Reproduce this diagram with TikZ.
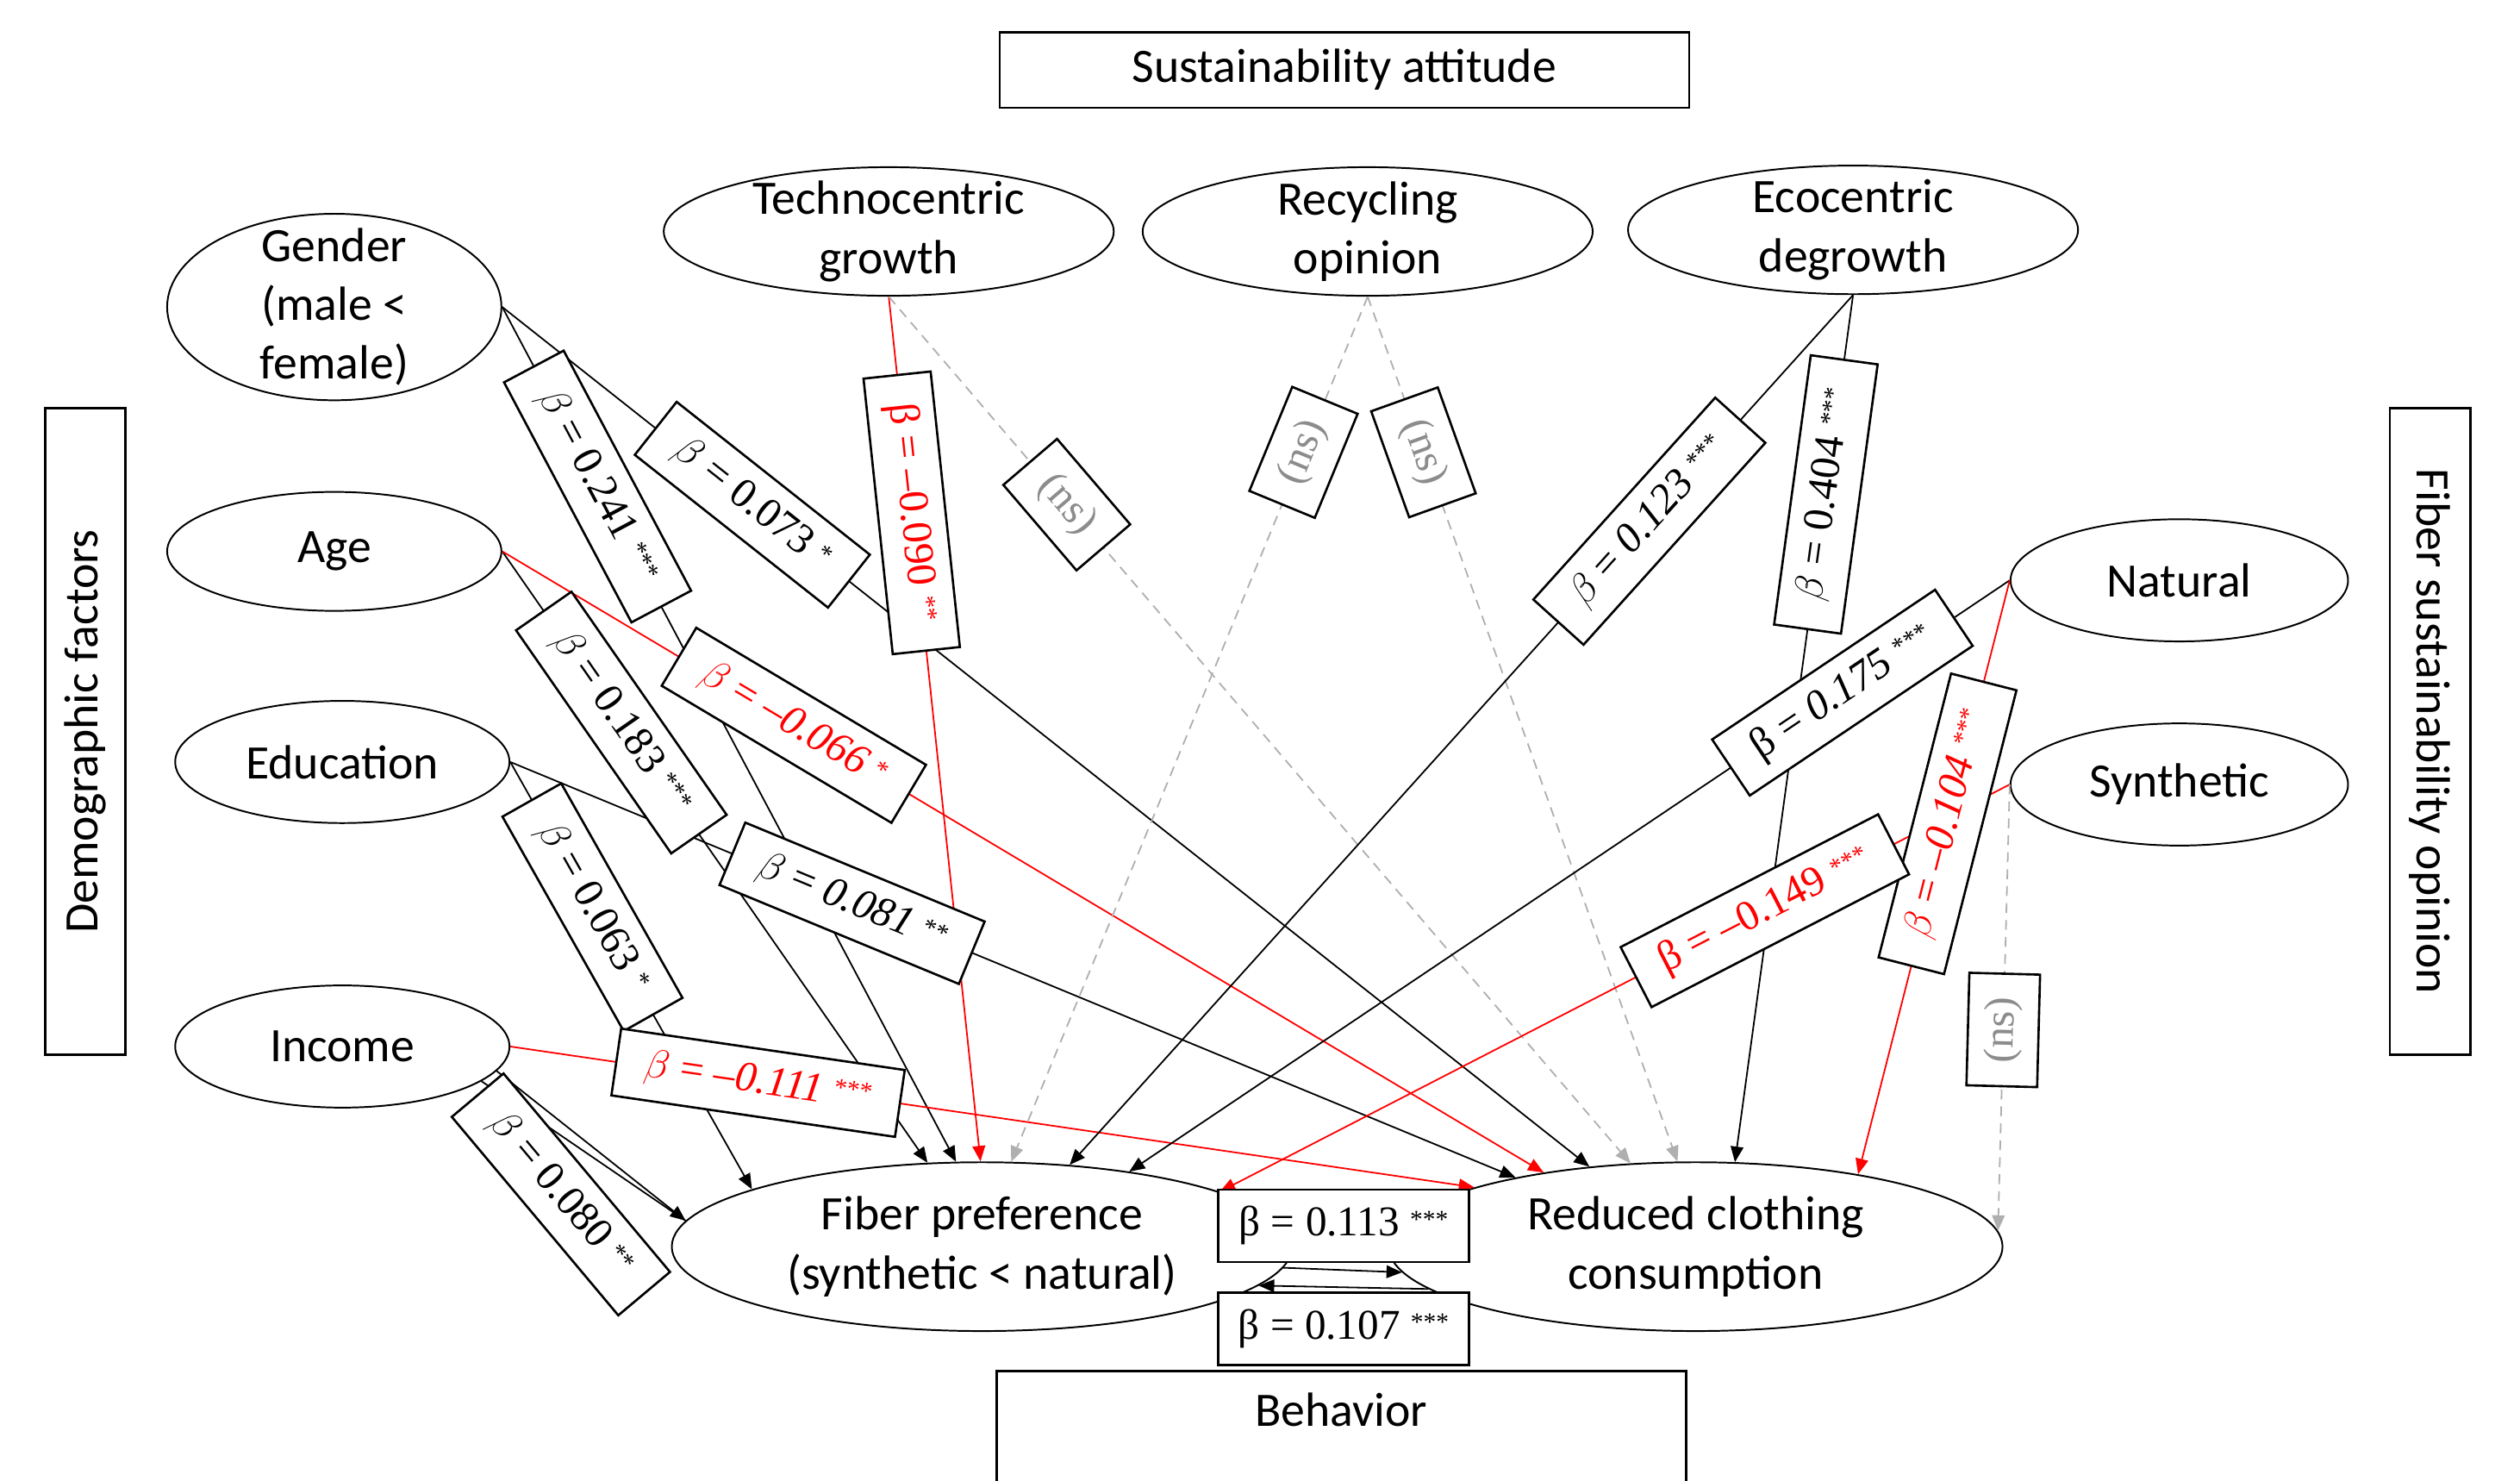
\documentclass[tikz,border=0pt]{standalone}
\usepackage{fontspec}
\setmainfont{Liberation Serif}
\newfontfamily\calfont{Carlito}
\usetikzlibrary{arrows.meta,shapes.geometric}
\definecolor{nsgray}{RGB}{175,175,175}
\definecolor{nstext}{RGB}{140,140,140}
\definecolor{myred}{RGB}{255,0,0}
\newcommand{\bi}{$\beta$}
\newcommand{\sig}[1]{\ \raisebox{0.2em}{\fontsize{9pt}{9pt}\selectfont #1}}
\begin{document}
\begin{tikzpicture}[x=0.2mm,y=-0.2mm,
  ell/.style={ellipse, draw, line width=0.6pt, inner xsep=0pt, inner ysep=-3pt, align=center,
    font=\calfont\fontsize{17pt}{20.8pt}\selectfont},
  hbox/.style={draw, line width=0.8pt, inner sep=0pt, font=\calfont\fontsize{17pt}{20.8pt}\selectfont},
  lbl/.style={draw, fill=white, line width=0.8pt, inner xsep=3.6mm, inner ysep=0pt,
    minimum height=8.4mm, font=\fontsize{15pt}{17pt}\selectfont},
  rlbl/.style={lbl, text=myred},
  nsl/.style={lbl, inner xsep=1mm, minimum width=14mm, minimum height=8.8mm, text=nstext},
  conn/.style={line width=0.55pt, -{Triangle[length=5.5pt,width=4.5pt]}},
  neg/.style={conn, draw=myred},
  nsc/.style={conn, draw=nsgray, dash pattern=on 3.5pt off 2.5pt},
]
\useasboundingbox (0,0) rectangle (1568,921);

% group boxes
\node[hbox, minimum width=85.8mm, minimum height=9.4mm] (sa) at (836.5,43.5) {Sustainability attitude};
\node[hbox, rotate=90, minimum width=80.4mm, minimum height=10mm] (dem) at (53,455) {Demographic factors};
\node[hbox, rotate=-90, minimum width=80.4mm, minimum height=10mm] (fso) at (1512,455) {Fiber sustainability opinion};
\draw[line width=0.8pt] (620,930) |- (1049,853) -- (1049,930);
\node[font=\calfont\fontsize{17pt}{20.8pt}\selectfont] (beh) at (834.5,877) {Behavior};

% constructs
\node[ell, minimum width=41.6mm, minimum height=23.2mm, inner ysep=-6pt] (gen) at (208,191) {Gender\\(male <\\female)};
\node[ell, minimum width=41.6mm, minimum height=14.8mm] (age) at (208,343) {Age};
\node[ell, minimum width=41.6mm, minimum height=15.2mm] (edu) at (213,474) {Education};
\node[ell, minimum width=41.6mm, minimum height=15.2mm] (inc) at (213,651) {Income};
\node[ell, minimum width=56mm, minimum height=16mm] (tech) at (553,144) {Technocentric\\growth};
\node[ell, minimum width=56mm, minimum height=16mm] (rec) at (851,144) {Recycling\\opinion};
\node[ell, minimum width=56mm, minimum height=16mm] (eco) at (1153,143) {Ecocentric\\degrowth};
\node[ell, minimum width=42mm, minimum height=15.2mm] (nat) at (1356,361) {Natural};
\node[ell, minimum width=42mm, minimum height=15.2mm] (syn) at (1356,488) {Synthetic};
\node[ell, minimum width=77.2mm, minimum height=21mm] (fp) at (611,775.5) {Fiber preference\\(synthetic < natural)};
\node[ell, minimum width=76.4mm, minimum height=21mm] (rcc) at (1055,775.5) {Reduced clothing\\consumption};

% connectors
\draw[conn] (gen.east) -- (fp.107.3);
\draw[conn] (gen.east) -- (rcc.143.7);
\draw[conn] (age.east) -- (fp.123.7);
\draw[neg] (age.east) -- (rcc.154.7);
\draw[conn] (edu.east) -- (fp.166.5);
\draw[conn] (edu.east) -- (rcc.159.2);
\draw[conn] (inc.-9) -- (fp.175);
\draw[line width=0.55pt] (inc.-14) -- (fp.175);
\draw[neg] (inc.east) -- (rcc.165.3);
\draw[neg] (tech.south) -- (fp.91.1);
\draw[nsc] (tech.south) -- (rcc.128.2);
\draw[nsc] (rec.south) -- (fp.71);
\draw[nsc] (rec.south) -- (rcc.102.3);
\draw[conn] (eco.south) -- (fp.43);
\draw[conn] (eco.south) -- (rcc.65.3);
\draw[conn] (nat.west) -- (fp.27.3);
\draw[neg] (nat.west) -- (rcc.24.7);
\draw[neg] (syn.west) -- (fp.13.95);
\draw[nsc] (syn.west) -- (rcc.3);
\draw[conn] (fp.-4.8) -- (rcc.-175.15);
\draw[conn] (rcc.-171.75) -- (fp.-8.2);

% labels
\path (gen.east) -- node[lbl, sloped, pos=0.21] (l241) {\bi{} = 0.241\sig{***}} (fp.107.3);
\path (gen.east) -- node[lbl, sloped, pos=0.23] (l073) {\bi{} = 0.073\sig{*}} (rcc.143.7);
\path (age.east) -- node[lbl, sloped, pos=0.28] (l183) {\bi{} = 0.183\sig{***}} (fp.123.7);
\path (age.east) -- node[rlbl, sloped, pos=0.28] (l066) {\bi{} = \textit{–0.066}\sig{*}} (rcc.154.7);
\path (edu.east) -- node[lbl, sloped, pos=0.34] (l063) {\bi{} = 0.063\sig{*}} (fp.166.5);
\path (edu.east) -- node[lbl, sloped, pos=0.34] (l081) {\bi{} = \textit{0.081}\sig{**}} (rcc.159.2);
\node[lbl, rotate=-50] (l080) at (349,743) {\bi{} = 0.080\sig{**}};
\path (inc.east) -- node[rlbl, sloped, pos=0.257] (l111) {\bi{} = \textit{–0.111}\sig{***}} (rcc.165.3);
\path (tech.south) -- node[rlbl, sloped, pos=0.25] (l090) {β = –0.090\sig{**}} (fp.91.1);
\path (tech.south) -- node[nsl, sloped, pos=0.24] (ns1) {(ns)} (rcc.128.2);
\path (rec.south) -- node[nsl, sloped, pos=0.18] (ns2) {(ns)} (fp.71);
\path (rec.south) -- node[nsl, sloped, pos=0.18] (ns3) {(ns)} (rcc.102.3);
\path (eco.south) -- node[lbl, sloped, pos=0.26] (l123) {\bi{} = \textit{0.123}\sig{***}} (fp.43);
\path (eco.south) -- node[lbl, sloped, pos=0.23] (l404) {\bi{} = 0.404\sig{***}} (rcc.65.3);
\path (nat.west) -- node[lbl, sloped, pos=0.19] (l175) {β = \textit{0.175}\sig{***}} (fp.27.3);
\path (nat.west) -- node[rlbl, sloped, pos=0.41] (l104) {\bi{} = \textit{–0.104}\sig{***}} (rcc.24.7);
\path (syn.west) -- node[rlbl, sloped, pos=0.31] (l149) {β = –0.149\sig{***}} (fp.13.95);
\path (syn.west) -- node[nsl, sloped, pos=0.55] (ns4) {(ns)} (rcc.3);
\node[lbl, inner xsep=0pt, minimum width=31.2mm, minimum height=9mm] (l113) at (836,762.5) {β = 0.113\sig{***}};
\node[lbl, inner xsep=0pt, minimum width=31.2mm, minimum height=9mm] (l107) at (836,826.5) {β = 0.107\sig{***}};
\end{tikzpicture}
\end{document}
